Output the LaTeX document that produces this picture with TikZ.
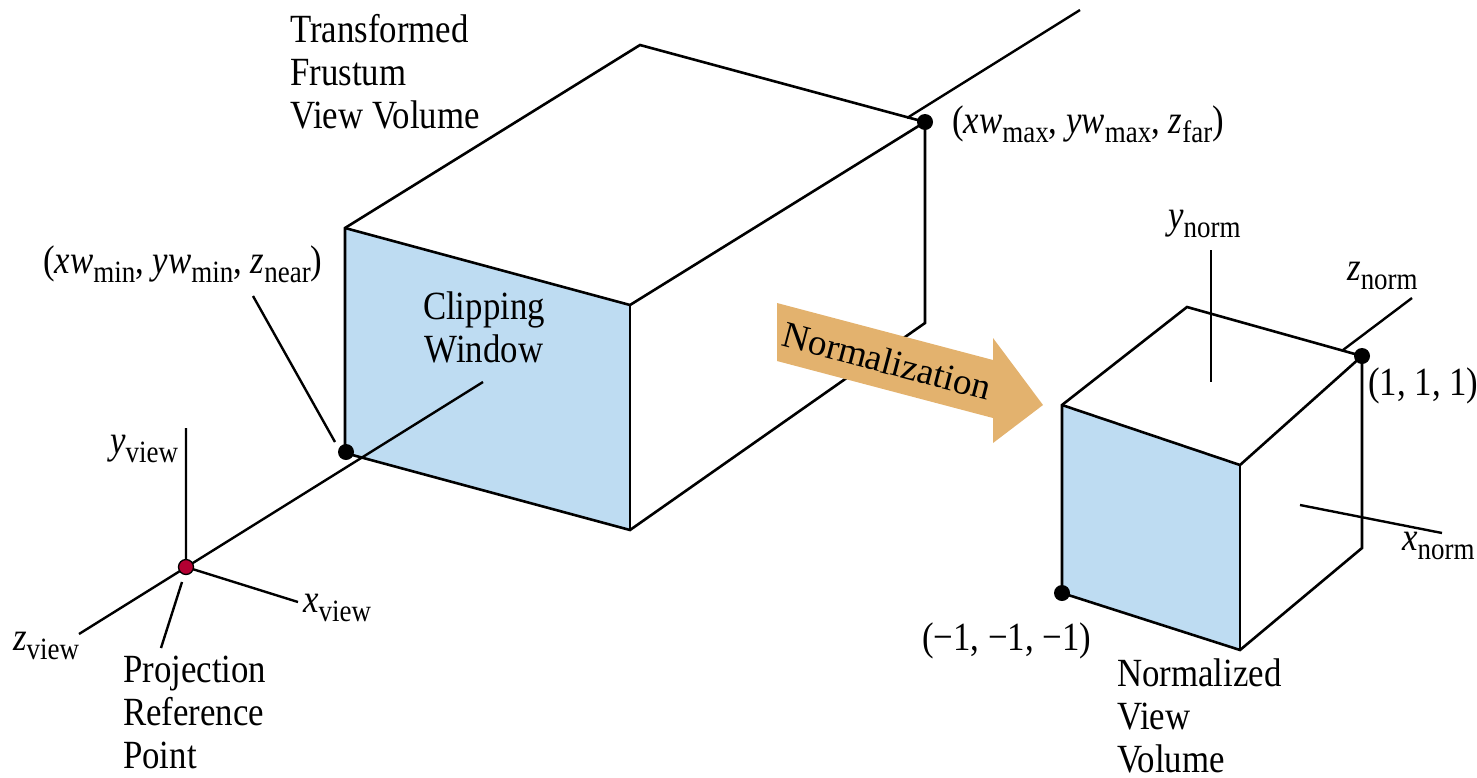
\documentclass[tikz,border=0pt]{standalone}
\usepackage{fontspec}
\setmainfont{Liberation Serif}[FakeStretch=0.87]
\newfontfamily\plainserif{Liberation Serif}
\newcommand\lbsub[1]{\raisebox{-9pt}{\fontsize{31}{31}\selectfont #1}}
\newcommand\mi[1]{\textit{#1}}
\definecolor{faceblue}{RGB}{190,220,242}
\definecolor{arroworange}{RGB}{227,178,110}
\definecolor{prpred}{RGB}{180,0,50}
\begin{document}
\begin{tikzpicture}[x=1pt,y=-1pt,
  edge/.style={line width=2.6pt, line join=miter},
  axisline/.style={line width=2.4pt},
  txt/.style={font=\fontsize{40}{43}\selectfont, inner sep=0pt, align=left},
  lbl/.style={font=\fontsize{40}{43}\selectfont, inner sep=0pt, anchor=base west},
  dotb/.style={circle, fill=black, inner sep=0pt, minimum size=16pt},
]
\useasboundingbox (0,0) rectangle (1477,777);
% frustum box vertices
\coordinate (A) at (345,228);
\coordinate (B) at (640,45);
\coordinate (C) at (925,122);
\coordinate (D) at (630,305);
\coordinate (E) at (630,530);
\coordinate (F) at (345,453);
\coordinate (G) at (925,323);
% view axes
\coordinate (PRP) at (186,567);
\coordinate (zEnd) at (79,634);
\coordinate (zMid) at (483,382);
\coordinate (zOut) at (907,118);
\coordinate (zFar) at (1080,10);
\coordinate (yv) at (186,428);
\coordinate (xv) at (298,602);
\coordinate (prpA) at (182,582);
\coordinate (prpB) at (161,648);
\coordinate (minA) at (253,296);
\coordinate (minB) at (335,442);
% cube
\coordinate (P) at (1062,405);
\coordinate (Q) at (1187,307);
\coordinate (R) at (1362,356);
\coordinate (S) at (1240,465);
\coordinate (T) at (1240,650);
\coordinate (U) at (1062,593);
\coordinate (V) at (1362,548);
\coordinate (ynA) at (1211,250);
\coordinate (ynB) at (1211,382);
\coordinate (znA) at (1343,350);
\coordinate (znB) at (1412,298);
\coordinate (xnA) at (1300,505);
\coordinate (xnB) at (1442,533);
% faces
\fill[faceblue] (A) -- (D) -- (E) -- (F) -- cycle;
\fill[faceblue] (P) -- (S) -- (T) -- (U) -- cycle;
% box edges
\draw[edge] (F) -- (A) -- (B) -- (C) -- (G) -- (E) -- cycle;
\draw[edge] (A) -- (D) -- (C);
\draw[edge] (D) -- (E);
% axes
\draw[axisline] (zEnd) -- (zMid);
\draw[axisline] (zOut) -- (zFar);
\draw[axisline] (yv) -- (PRP) -- (xv);
\draw[axisline] (prpA) -- (prpB);
\draw[axisline] (minA) -- (minB);
% cube edges
\draw[edge] (U) -- (P) -- (Q) -- (R) -- (V) -- (T) -- cycle;
\draw[edge] (P) -- (S) -- (R);
\draw[edge] (S) -- (T);
\draw[axisline] (ynA) -- (ynB);
\draw[axisline] (znA) -- (znB);
\draw[axisline] (xnA) -- (xnB);
% normalization arrow
\fill[arroworange] (777,303) -- (993,360) -- (993,338) -- (1043,405) -- (993,443) -- (993,418) -- (777,361) -- cycle;
\node[inner sep=0pt, rotate=-14.8, font=\plainserif\fontsize{37}{40}\selectfont] (norm) at (887,361) {Normalization};
% dots
\node[dotb] (dF) at (346,452) {};
\node[dotb] (dC) at (C) {};
\node[dotb] (dR) at (R) {};
\node[dotb] (dU) at (U) {};
\node[circle, fill=prpred, draw=black, line width=1.3pt, inner sep=0pt, minimum size=15pt] (dPRP) at (PRP) {};
% texts
\node[txt, anchor=north west] (tf) at (290,14) {Transformed\\Frustum\\View Volume};
\node[txt, align=center, anchor=north] (cw) at (484,292) {Clipping\\Window};
\node[txt, anchor=north west] (prptxt) at (123,656) {Projection\\Reference\\Point};
\node[txt, anchor=north west] (nvv) at (1117,659) {Normalized\\View\\Volume};
\node[lbl] (lmin) at (43,273) {(\mi{xw}\lbsub{min}, \mi{yw}\lbsub{min}, \mi{z}\lbsub{near})};
\node[lbl] (lmax) at (952,133) {(\mi{xw}\lbsub{max}, \mi{yw}\lbsub{max}, \mi{z}\lbsub{far})};
\node[lbl] (l111) at (1368,395) {(1, 1, 1)};
\node[lbl] (lm111) at (922,650) {(−1, −1, −1)};
\node[lbl] (yview) at (110,453) {\mi{y}\lbsub{view}};
\node[lbl] (xview) at (303,612) {\mi{x}\lbsub{view}};
\node[lbl] (zview) at (13,650) {\mi{z}\lbsub{view}};
\node[lbl] (ynorm) at (1168,228) {\mi{y}\lbsub{norm}};
\node[lbl] (znorm) at (1347,280) {\mi{z}\lbsub{norm}};
\node[lbl] (xnorm) at (1402,550) {\mi{x}\lbsub{norm}};
\end{tikzpicture}
\end{document}
